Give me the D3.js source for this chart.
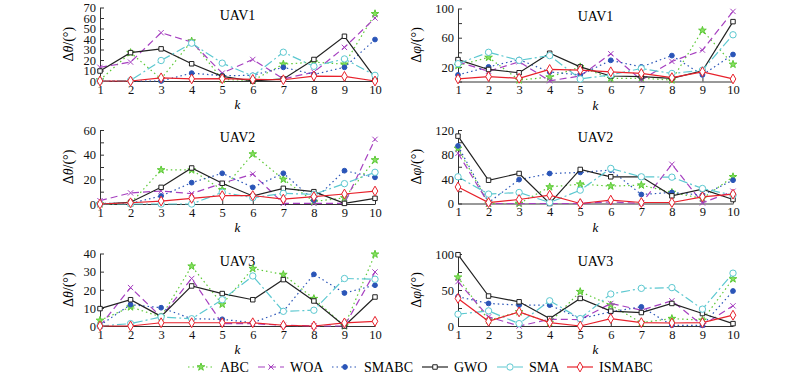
<!DOCTYPE html>
<html>
<head>
<meta charset="utf-8">
<script src="https://cdn.jsdelivr.net/npm/d3@7"></script>
<style>
  body { margin: 0; background: #fff; }
  svg text { font-family: "Liberation Serif", "Times New Roman", "DejaVu Serif", serif; }
</style>
</head>
<body>
<div class="chart"></div>
<script>
// series order: ABC, WOA, SMABC, GWO, SMA, ISMABC
var seriesNames = ["ABC", "WOA", "SMABC", "GWO", "SMA", "ISMABC"];
var kValues = [1, 2, 3, 4, 5, 6, 7, 8, 9, 10];

var uav1Theta = [
  [1, 27, 2, 38, 1.5, 0.5, 16, 18, 16, 64],
  [13, 18, 46, 37, 7.5, 20.5, 2, 8.5, 32, 60],
  [0, 0, 0, 7.5, 5, 5.4, 13, 6.3, 13, 39.5],
  [9.5, 27, 30.6, 16.4, 4.4, 0, 2, 20.5, 42.6, 3],
  [0, 0.5, 19.5, 36, 17, 4.7, 27.4, 14, 21, 5.4],
  [0, 0, 3, 2, 2.2, 1.5, 1.2, 4.7, 4.4, 0]
];
var uav1Phi = [
  [22, 33, 2, 6, 20, 4.4, 4.4, 2, 70, 23.5],
  [27, 14, 27, 1, 7.5, 38, 2, 27.5, 43, 96],
  [9, 20, 30, 13, 9, 29, 20, 35.5, 9, 37],
  [30, 16.5, 12, 38.7, 20, 7.5, 6.7, 4.4, 14.7, 82],
  [24.4, 40, 29, 35.5, 3.5, 9, 17.8, 11, 15.5, 64],
  [3.5, 6.7, 4.4, 16.5, 15.5, 13.3, 11, 5.3, 13.3, 3.5]
];
var uav2Theta = [
  [0, 0.5, 27.6, 27.6, 11.4, 40.5, 20, 2, 5, 35.7],
  [2.7, 9, 10.5, 8.4, 16.8, 24.3, 0.5, 0.5, 0.5, 52.4],
  [0.5, 0.5, 6.5, 17.3, 24.9, 13.5, 24.9, 3.2, 27, 21.6],
  [0, 1.4, 13.5, 29.2, 16.8, 6.5, 12.7, 10, 0.5, 4.6],
  [0, 0, 0, 0, 9.5, 5.1, 8.6, 7.8, 16.5, 25.7],
  [0, 1, 2.4, 4.6, 6.8, 6.8, 4, 6, 8.1, 10.5]
];
var uav2Phi = [
  [90, 0, 0, 27, 31.6, 28.4, 30, 18, 8.2, 43.6],
  [82, 0, 0, 0, 0, 2.7, 0, 64, 1, 20],
  [94, 1.6, 39, 49, 50.7, 54.6, 14.7, 18, 13.6, 38],
  [110, 38, 49, 0, 55.6, 43.6, 43.6, 12.5, 23.5, 6.5],
  [43.6, 15.3, 18, 1.6, 21.8, 57.3, 43.6, 43, 24.5, 13.6],
  [27, 1.6, 6.5, 13.6, 0, 5.5, 1.6, 1.6, 10.9, 15.3]
];
var uav3Theta = [
  [3.1, 10.5, 5, 33, 12, 31.7, 28.4, 15.1, 0, 39.6],
  [0, 21.2, 5, 26.2, 1.3, 1.3, 0.4, 0, 0, 29.8],
  [0.4, 11.8, 10.1, 4, 3.7, 1.8, 8.1, 28.5, 18.2, 22.5],
  [9.6, 14.5, 5.3, 22.1, 17.9, 14.5, 25.6, 13.8, 0, 16],
  [0, 1.3, 5, 4, 14.5, 27.6, 8.1, 8.7, 26.2, 25.8],
  [0, 0, 1.8, 1.8, 1.8, 1.8, 0.4, 0, 1.7, 2.6]
];
var uav3Phi = [
  [67.8, 8, 19.6, 4.7, 47.7, 29, 4.7, 10.3, 8, 65.4],
  [61.7, 12.6, 0, 9.3, 8.9, 31.3, 22, 35, 1, 28],
  [40.7, 31.3, 29, 29, 10.3, 19.6, 26.6, 1, 1, 48.6],
  [99, 41.6, 33.6, 10.3, 38.3, 20.6, 18.7, 31.3, 17.3, 3.3],
  [16.4, 21, 3.3, 35, 10.3, 44.4, 52.3, 53.3, 23.4, 73.4],
  [38.3, 6.5, 19.6, 4.7, 0, 10.3, 4.7, 4.2, 4.7, 15]
];

// y ticks (all) and which of them carry a label
var ticksT1 = [0, 10, 20, 30, 40, 50, 60, 70], labelsT1 = [0, 10, 20, 30, 40, 50, 60, 70];
var ticksP1 = [0, 20, 40, 60, 80, 100], labelsP1 = [20, 60, 100];
var ticksT2 = [0, 10, 20, 30, 40, 50, 60], labelsT2 = [0, 20, 40, 60];
var ticksP2 = [0, 20, 40, 60, 80, 100, 120], labelsP2 = [0, 40, 80, 120];
var ticksT3 = [0, 10, 20, 30, 40], labelsT3 = [0, 10, 20, 30, 40];
var ticksP3 = [0, 25, 50, 75, 100], labelsP3 = [0, 50, 100];

var serif = "'Liberation Serif', 'Times New Roman', 'DejaVu Serif', serif";

var styles = [
  { color: "#5cc936", dash: "1.5,3", symbol: d3.symbolStar, size: 18, fill: "#86e060" },
  { color: "#a640c0", dash: "7,4", symbol: d3.symbolTimes, size: 20, fill: "none" },
  { color: "#2a55b8", dash: "1.5,3", symbol: d3.symbolCircle, size: 18, fill: "#2a55b8" },
  { color: "#222222", dash: null, symbol: d3.symbolSquare, size: 20, fill: "#fff" },
  { color: "#5cc8d0", dash: "9,3,2,3", symbol: d3.symbolCircle, size: 32, fill: "#fff" },
  { color: "#e8212b", dash: null, symbol: d3.symbolDiamond, size: 28, fill: "#fff" }
];

var svg = d3.select(".chart").append("svg")
  .attr("width", 800)
  .attr("height", 380)
  .attr("font-family", serif);

var panels = [
  { title: "UAV1", data: uav1Theta, ticks: ticksT1, labels: labelsT1, greek: "θ", x0: 100, x1: 375, yTop: 7.5, yBot: 81, labX: 73 },
  { title: "UAV1", data: uav1Phi, ticks: ticksP1, labels: labelsP1, greek: "φ", x0: 458, x1: 733, yTop: 8.5, yBot: 81.5, labX: 421 },
  { title: "UAV2", data: uav2Theta, ticks: ticksT2, labels: labelsT2, greek: "θ", x0: 100, x1: 375, yTop: 130, yBot: 204, labX: 73 },
  { title: "UAV2", data: uav2Phi, ticks: ticksP2, labels: labelsP2, greek: "φ", x0: 458, x1: 733, yTop: 130, yBot: 203.5, labX: 421 },
  { title: "UAV3", data: uav3Theta, ticks: ticksT3, labels: labelsT3, greek: "θ", x0: 100, x1: 375, yTop: 253.5, yBot: 326, labX: 73 },
  { title: "UAV3", data: uav3Phi, ticks: ticksP3, labels: labelsP3, greek: "φ", x0: 458, x1: 733, yTop: 254, yBot: 326, labX: 421 }
];

panels.forEach(function(p) {
  var x = d3.scaleLinear().domain([1, 10]).range([p.x0, p.x1]);
  var yMax = d3.max(p.ticks);
  var y = d3.scaleLinear().domain([0, yMax]).range([p.yBot, p.yTop]);
  var g = svg.append("g");

  // axes
  var xAxis = g.append("g")
    .attr("transform", `translate(0, ${p.yBot})`)
    .call(d3.axisBottom(x).tickValues(kValues).tickSize(-4).tickSizeOuter(0).tickPadding(4));
  var yAxis = g.append("g")
    .attr("transform", `translate(${p.x0}, 0)`)
    .call(d3.axisLeft(y).tickValues(p.ticks).tickSize(-4).tickSizeOuter(0).tickPadding(4)
      .tickFormat(function(d) { return p.labels.indexOf(d) >= 0 ? d : ""; }));
  [xAxis, yAxis].forEach(function(a) {
    a.attr("font-family", serif).attr("font-size", 12.5);
    a.selectAll("text").attr("fill", "#111");
    a.selectAll("path, line").attr("stroke", "#333");
  });
  yAxis.selectAll("text").attr("dy", "0.34em");

  // title
  g.append("text")
    .attr("x", (p.x0 + p.x1) / 2)
    .attr("y", p.yTop + 12)
    .attr("text-anchor", "middle")
    .attr("font-size", 14)
    .text(p.title);

  // axis labels
  g.append("text")
    .attr("x", (p.x0 + p.x1) / 2)
    .attr("y", p.yBot + 28)
    .attr("text-anchor", "middle")
    .attr("font-size", 13)
    .attr("font-style", "italic")
    .text("k");
  var yl = g.append("text")
    .attr("transform", `translate(${p.labX}, ${(p.yTop + p.yBot) / 2}) rotate(-90)`)
    .attr("text-anchor", "middle")
    .attr("font-size", 14);
  yl.append("tspan").text("Δ");
  yl.append("tspan").attr("font-style", "italic").text(p.greek);
  yl.append("tspan").text("/(°)");

  // series
  p.data.forEach(function(vals, si) {
    var st = styles[si];
    var pts = vals.map(function(v, i) { return [kValues[i], v]; });
    g.append("path")
      .datum(pts)
      .attr("fill", "none")
      .attr("stroke", st.color)
      .attr("stroke-width", 1.2)
      .attr("stroke-dasharray", st.dash)
      .attr("d", d3.line().x(d => x(d[0])).y(d => y(d[1])));
    g.selectAll(null)
      .data(pts)
      .enter()
      .append("path")
      .attr("transform", d => `translate(${x(d[0])}, ${y(d[1])})`)
      .attr("d", d3.symbol().type(st.symbol).size(st.size))
      .attr("fill", st.fill)
      .attr("stroke", st.color)
      .attr("stroke-width", 1);
  });
});

// legend
var legendX = [188, 258, 332, 422, 497, 567];
var legend = svg.append("g").attr("transform", "translate(0, 367)");
seriesNames.forEach(function(name, i) {
  var st = styles[i];
  var lx = legendX[i];
  legend.append("line")
    .attr("x1", lx).attr("x2", lx + 26)
    .attr("y1", 0).attr("y2", 0)
    .attr("stroke", st.color)
    .attr("stroke-width", 1.2)
    .attr("stroke-dasharray", st.dash);
  legend.append("path")
    .attr("transform", `translate(${lx + 13}, 0)`)
    .attr("d", d3.symbol().type(st.symbol).size(st.size))
    .attr("fill", st.fill)
    .attr("stroke", st.color);
  legend.append("text")
    .attr("x", lx + 32)
    .attr("y", 5)
    .attr("font-size", 14)
    .text(name);
});
</script>
</body>
</html>
